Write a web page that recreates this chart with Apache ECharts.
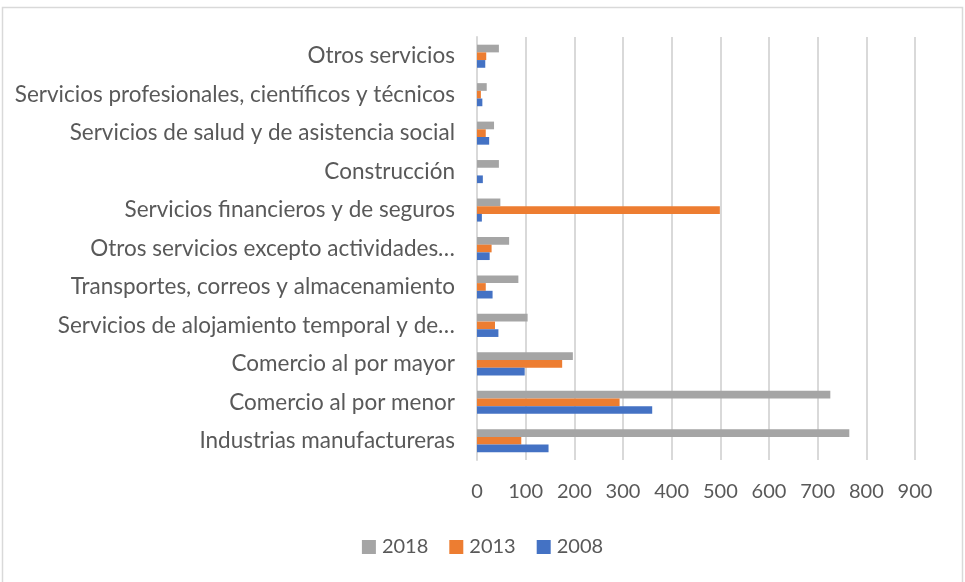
<!DOCTYPE html>
<html>
<head>
<meta charset="utf-8">
<script src="https://cdn.jsdelivr.net/npm/echarts@6/dist/echarts.min.js"></script>
<style>
  html, body { margin: 0; padding: 0; background: #fff; }
  #chart { width: 965px; height: 582px; }
</style>
</head>
<body>
<div id="chart"></div>
<script>
// Sectors, listed bottom to top as they appear on the category axis
const categories = [
  'Industrias manufactureras',
  'Comercio al por menor',
  'Comercio al por mayor',
  'Servicios de alojamiento temporal y de…',
  'Transportes, correos y almacenamiento',
  'Otros servicios excepto actividades…',
  'Servicios financieros y de seguros',
  'Construcción',
  'Servicios de salud y de asistencia social',
  'Servicios profesionales, científicos y técnicos',
  'Otros servicios'
];

const values2008 = [147, 360, 98, 44, 32, 26, 10, 12, 25, 11, 17];
const values2013 = [91, 293, 175, 37, 18, 30, 499, 0, 18, 8, 19];
const values2018 = [765, 726, 197, 104, 85, 66, 48, 45, 35, 20, 45];

const xTicks = { min: 0, max: 900, interval: 100 };
const legendOrder = ['2018', '2013', '2008'];

const FONT = 'Lato, "Open Sans", sans-serif';
const TEXT = '#595959';

const chart = echarts.init(document.getElementById('chart'), null, { renderer: 'canvas' });

function barSeries(name, data, color) {
  return {
    name: name,
    type: 'bar',
    data: data,
    barGap: '0%',
    barCategoryGap: '40%',
    itemStyle: { color: color },
    emphasis: { disabled: true },
    animation: false
  };
}

chart.setOption({
  animation: false,
  graphic: [{
    type: 'rect',
    shape: { x: 2.5, y: 7.5, width: 960, height: 580 },
    style: { fill: 'none', stroke: '#d9d9d9', lineWidth: 1.5 },
    silent: true
  }],
  grid: { left: 477, right: 50, top: 37, bottom: 122, containLabel: false },
  legend: {
    data: legendOrder,
    top: 532,
    left: 'center',
    itemWidth: 14,
    itemHeight: 14,
    itemGap: 21,
    icon: 'rect',
    textStyle: { fontFamily: FONT, fontSize: 20, color: TEXT, padding: [0, 0, 0, 1] }
  },
  xAxis: {
    type: 'value',
    min: xTicks.min,
    max: xTicks.max,
    interval: xTicks.interval,
    axisLine: { show: false },
    axisTick: { show: false },
    splitLine: { show: true, lineStyle: { color: '#d9d9d9', width: 2 } },
    axisLabel: { fontFamily: FONT, fontSize: 20, color: TEXT, margin: 22 }
  },
  yAxis: {
    type: 'category',
    data: categories,
    axisLine: { show: true, lineStyle: { color: '#d9d9d9', width: 2 } },
    axisTick: { show: false },
    axisLabel: { fontFamily: FONT, fontSize: 22.5, color: TEXT, margin: 22 }
  },
  series: [
    barSeries('2018', values2018, '#a5a5a5'),
    barSeries('2013', values2013, '#ed7d31'),
    barSeries('2008', values2008, '#4472c4')
  ]
});
</script>
</body>
</html>
